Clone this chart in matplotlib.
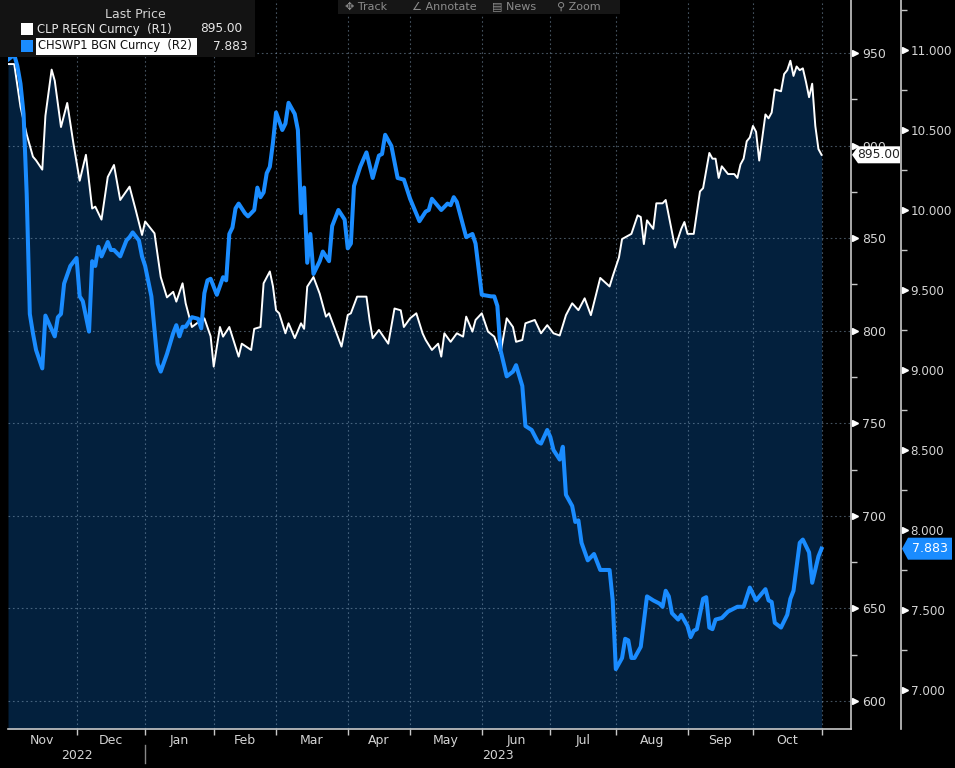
import numpy as np
import pandas as pd
import matplotlib
matplotlib.use("Agg")
import matplotlib.pyplot as plt
from matplotlib.patches import Rectangle, Polygon
from matplotlib.transforms import IdentityTransform

# business days counted from 2022-11-01
clp_bd = [0, 2, 4, 6, 8, 9, 11, 12, 14, 15, 17, 19, 21, 23, 25, 27, 28, 30, 32, 34,
          36, 39, 41, 43, 44, 47, 49, 51, 53, 54, 56, 57, 59, 62, 63, 65, 66, 68, 69, 71,
          74, 75, 78, 79, 81, 82, 84, 85, 86, 87, 89, 90, 92, 94, 95, 96, 98, 100, 102, 103,
          105, 107, 109, 110, 112, 115, 116, 117, 119, 122, 124, 126, 127, 129, 131, 133, 134, 136, 138, 139,
          140, 142, 144, 146, 147, 149, 150, 152, 154, 156, 158, 160, 162, 163, 165, 166, 169, 171, 173, 175,
          177, 179, 181, 183, 185, 187, 190, 193, 194, 196, 197, 200, 202, 203, 204, 205, 207, 208, 210, 211,
          214, 216, 217, 218, 220, 222, 223, 225, 226, 227, 228, 229, 231, 233, 234, 235, 236, 237, 238, 239,
          240, 241, 242, 243, 244, 245, 246, 248, 249, 250, 251, 252, 253, 254, 255, 256, 257, 258, 259, 260,
          261]
clp = [944, 944, 921, 906, 894, 892, 887, 916, 941, 935, 910, 923, 901, 881, 895, 866, 867, 860, 883, 889.5,
       870.6, 877.8, 865, 851.7, 859, 852.6, 829, 818, 821, 815.7, 825.6, 814.8, 802, 805.8, 806.7, 797, 780.6, 802, 796.8, 802,
       786, 793, 789.6, 801, 802, 825.6, 832, 824, 811, 809.4, 798.6, 804, 796, 804, 801, 823.8, 829, 820, 807.6, 809.4,
       800.4, 791.4, 808.5, 809.4, 818.4, 818.4, 805.8, 796, 800.4, 793, 812, 811, 802, 806.7, 809.4, 798.6, 795, 789.6, 793, 786,
       798.6, 794, 798.6, 796.8, 807.6, 799.5, 805.8, 809.4, 799.5, 796.8, 787.8, 806.7, 802, 794, 795, 804, 805.8, 798.6, 803, 798.6,
       797.4, 808.4, 814.8, 811.1, 817.5, 808.4, 828.5, 823.9, 829.4, 839.5, 849.5, 852.3, 862.3, 861.4, 846.8, 859.6, 855, 868.8, 868.8, 870.6,
       844.9, 855, 858.7, 852.3, 852.3, 875.2, 877, 896, 892.9, 892.9, 882.5, 888.8, 884.6, 884.6, 882.5, 889.8, 892.9, 902.3, 904.4, 910.6,
       907.4, 891.9, 904.4, 916.8, 914.7, 917.8, 930.3, 929.3, 938.6, 940.7, 945.8, 937.6, 942.7, 940.7, 941.7, 934.4, 926.1, 933.4, 910.6, 898.1,
       895]

chswp_bd = [0, 2, 3, 4, 5, 6, 7, 8, 9, 11, 12, 15, 16, 17, 18, 20, 22, 23, 24, 26,
            27, 28, 29, 30, 32, 33, 34, 36, 38, 39, 40, 42, 43, 44, 46, 48, 49, 51, 53, 54,
            55, 56, 57, 59, 61, 62, 63, 64, 65, 67, 69, 70, 71, 72, 73, 74, 76, 77, 79, 80,
            81, 82, 83, 84, 85, 86, 88, 89, 90, 92, 93, 94, 95, 96, 97, 98, 100, 101, 103, 104,
            106, 108, 109, 110, 111, 113, 115, 117, 119, 120, 121, 123, 125, 127, 129, 132, 134, 135, 136, 139,
            141, 142, 143, 144, 147, 149, 150, 152, 155, 156, 157, 158, 160, 162, 163, 165, 166, 168, 170, 171,
            173, 174, 175, 177, 178, 179, 181, 182, 183, 184, 186, 188, 190, 193, 194, 195, 197, 198, 199, 200,
            201, 203, 205, 207, 209, 210, 211, 212, 213, 215, 216, 218, 219, 220, 221, 223, 224, 225, 226, 227,
            229, 231, 233, 234, 236, 238, 240, 243, 244, 245, 246, 248, 250, 251, 252, 254, 255, 257, 258, 260,
            261]
chswp = [10.94, 10.97, 10.90, 10.79, 10.6, 10.1, 9.35, 9.23, 9.125, 9.01, 9.34, 9.21, 9.33, 9.35, 9.54, 9.65, 9.70, 9.46, 9.43, 9.24,
         9.68, 9.65, 9.77, 9.71, 9.80, 9.75, 9.75, 9.71, 9.81, 9.83, 9.86, 9.81, 9.71, 9.65, 9.46, 9.04, 8.99, 9.10, 9.23, 9.28,
         9.21, 9.27, 9.27, 9.33, 9.32, 9.26, 9.48, 9.56, 9.57, 9.47, 9.58, 9.56, 9.85, 9.89, 10.01, 10.04, 9.98, 9.96, 10.0, 10.14,
         10.08, 10.11, 10.23, 10.27, 10.42, 10.61, 10.50, 10.54, 10.67, 10.60, 10.50, 9.98, 10.14, 9.67, 9.85, 9.60, 9.68, 9.74, 9.68, 9.90,
         10.0, 9.94, 9.76, 9.79, 10.15, 10.27, 10.36, 10.20, 10.34, 10.35, 10.47, 10.40, 10.20, 10.19, 10.07, 9.93, 9.99, 10.0, 10.07, 10.0,
         10.04, 10.03, 10.08, 10.05, 9.83, 9.85, 9.79, 9.47, 9.46, 9.46, 9.40, 9.125, 8.96, 8.99, 9.03, 8.90, 8.65, 8.625, 8.55, 8.54,
         8.625, 8.58, 8.50, 8.44, 8.52, 8.22, 8.15, 8.05, 8.06, 7.92, 7.81, 7.85, 7.75, 7.75, 7.56, 7.13, 7.20, 7.32, 7.31, 7.20,
         7.20, 7.27, 7.585, 7.56, 7.54, 7.52, 7.62, 7.585, 7.48, 7.44, 7.47, 7.40, 7.33, 7.37, 7.38, 7.57, 7.58, 7.39, 7.38, 7.44,
         7.45, 7.49, 7.51, 7.52, 7.52, 7.64, 7.56, 7.63, 7.56, 7.55, 7.42, 7.39, 7.47, 7.57, 7.62, 7.92, 7.94, 7.86, 7.67, 7.835,
         7.883]

r1_ticks = [600, 650, 700, 750, 800, 850, 900, 950]
r2_ticks = [7.0, 7.5, 8.0, 8.5, 9.0, 9.5, 10.0, 10.5, 11.0]
clp_name = "CLP REGN Curncy  (R1)"
chswp_name = "CHSWP1 BGN Curncy  (R2)"

assert len(clp_bd) == len(clp) and len(chswp_bd) == len(chswp)

W, H = 955, 768
BLUE = "#1a8cff"
NAVY = "#03203d"
TXT = "#d4d4d4"
GRID = "#8aa6bf"
R1_LIM = (584.9, 978.6)
R2_LIM = (6.756, 11.3125)

bdays = pd.bdate_range("2022-11-01", "2023-11-01")
month_ticks = [i for i in range(1, len(bdays)) if bdays[i].month != bdays[i - 1].month]

def fig_xy(x, y):
    # pixel position (top-left origin) -> figure fraction
    return x / W, 1 - y / H

fig = plt.figure(figsize=(W / 100, H / 100), dpi=100, facecolor="black")
plt.rcParams["font.family"] = ["DejaVu Sans"]
ax = fig.add_axes([8 / W, 39 / H, 843 / W, 729 / H])
ax.set_facecolor("black")
ax.set_xlim(0, 270.45)

ax.fill_between(clp_bd, clp, R1_LIM[0], color=NAVY, lw=0, zorder=1)
ax.plot(clp_bd, clp, color="white", lw=1.4, zorder=3)

for t in r1_ticks:
    ax.axhline(t, color=GRID, lw=0.8, ls=(0, (1.5, 2.5)), alpha=0.5, zorder=2)
for t in month_ticks:
    ax.axvline(t, color=GRID, lw=0.8, ls=(0, (1.5, 2.5)), alpha=0.5, zorder=2)

for s in ["top", "left"]:
    ax.spines[s].set_visible(False)
for s in ["right", "bottom"]:
    ax.spines[s].set_color("#c8c8c8")
    ax.spines[s].set_linewidth(1.2)

ax2 = ax.twinx()
ax2.plot(chswp_bd, chswp, color=BLUE, lw=2.9, zorder=4, solid_joinstyle="round")

# R1 axis (twinx moves the host ticks to the left, so set them afterwards)
ax.yaxis.tick_right()
ax.set_yticks(r1_ticks)
ax.set_yticklabels([str(t) for t in r1_ticks])
ax.set_yticks([t + 25 for t in r1_ticks[:-1]], minor=True)
ax.tick_params(axis="y", which="major", length=0, pad=8, labelcolor=TXT, labelsize=9,
               left=False, labelleft=False, right=True, labelright=True)
ax.tick_params(axis="y", which="minor", length=4, color="#c8c8c8", width=1, left=False, right=True)
ax.set_ylim(*R1_LIM)
ax.set_xticks(month_ticks)
ax.set_xticklabels([])
ax.tick_params(axis="x", which="major", length=4, color="#c8c8c8", width=1, direction="out")
ax.plot([1.0045] * len(r1_ticks), r1_ticks, ls="none", marker=">", ms=4.5, color="white",
        transform=ax.get_yaxis_transform(), clip_on=False)

# R2 axis, offset to the right
for s in ["top", "left", "bottom"]:
    ax2.spines[s].set_visible(False)
ax2.spines["right"].set_position(("axes", 893 / 843))
ax2.spines["right"].set_color("#c8c8c8")
ax2.spines["right"].set_linewidth(1.2)
ax2.set_yticks(r2_ticks)
ax2.set_yticklabels([f"{t:.3f}" for t in r2_ticks])
ax2.set_yticks([t + 0.25 for t in r2_ticks], minor=True)
ax2.tick_params(axis="y", which="major", length=0, pad=7, labelcolor=TXT, labelsize=8.6)
ax2.tick_params(axis="y", which="minor", length=4, color="#c8c8c8", width=1)
ax2.set_ylim(*R2_LIM)
ax2.plot([893 / 843 + 0.0045] * len(r2_ticks), r2_ticks, ls="none", marker=">", ms=4.5,
         color="white", transform=ax2.get_yaxis_transform(), clip_on=False)

# month and year labels under the axis
bounds = [0] + month_ticks
for a, b in zip(bounds[:-1], bounds[1:]):
    ax.text((a + b) / 2, -0.0155, bdays[a].strftime("%b"), transform=ax.get_xaxis_transform(),
            ha="center", va="center", color=TXT, fontsize=9)
jan = month_ticks[1]
ax.text(jan / 2, -0.036, "2022", transform=ax.get_xaxis_transform(), ha="center", va="center",
        color=TXT, fontsize=9)
ax.text((jan + ax.get_xlim()[1]) / 2, -0.036, "2023", transform=ax.get_xaxis_transform(),
        ha="center", va="center", color=TXT, fontsize=9)
ax.plot([jan, jan], [-0.022, -0.047], color="#888888", lw=1, transform=ax.get_xaxis_transform(),
        clip_on=False)

# last value tags on the axes
def value_tag(axis, value, text, x0, x1, h, face, fg, size):
    _, yd = axis.transData.transform((0, value))
    tip = 6
    pts = [(x0, yd), (x0 + tip, yd + h / 2), (x1, yd + h / 2), (x1, yd - h / 2), (x0 + tip, yd - h / 2)]
    fig.add_artist(Polygon(pts, closed=True, transform=IdentityTransform(), facecolor=face,
                           edgecolor="none", zorder=5))
    fig.text((x0 + tip + x1) / 2 / W, yd / H, text, ha="center", va="center", color=fg,
             fontsize=size, zorder=6)

value_tag(ax, clp[-1], f"{clp[-1]:.2f}", 852, 900, 17, "white", "#222222", 8.8)
value_tag(ax2, chswp[-1], f"{chswp[-1]:.3f}", 902, 952, 22, BLUE, "white", 9)

# legend box
fig.add_artist(Rectangle(fig_xy(0, 57), 255 / W, 57 / H, transform=fig.transFigure,
                         facecolor="#131313", edgecolor="none"))
fig.text(*fig_xy(135, 14), "Last Price", ha="center", va="center", color=TXT, fontsize=9)
fig.add_artist(Rectangle(fig_xy(21, 35), 12 / W, 12 / H, transform=fig.transFigure,
                         facecolor="white", edgecolor="none"))
fig.text(*fig_xy(37, 29), clp_name, ha="left", va="center", color="#e6e6e6", fontsize=8.4)
fig.text(*fig_xy(242, 29), f"{clp[-1]:.2f}", ha="right", va="center", color="#e6e6e6", fontsize=8.7)
fig.add_artist(Rectangle(fig_xy(21, 52), 12 / W, 12 / H, transform=fig.transFigure,
                         facecolor=BLUE, edgecolor="none"))
fig.add_artist(Rectangle(fig_xy(36, 55), 161 / W, 17 / H, transform=fig.transFigure,
                         facecolor="white", edgecolor="none"))
fig.text(*fig_xy(37.5, 46), chswp_name, ha="left", va="center", color="#111111", fontsize=8.3)
fig.text(*fig_xy(248, 46), f"{chswp[-1]:.3f}", ha="right", va="center", color="#e6e6e6", fontsize=8.7)

# toolbar strip at the top
fig.add_artist(Rectangle(fig_xy(338, 14), 282 / W, 14 / H, transform=fig.transFigure,
                         facecolor="#161616", edgecolor="none"))
for x, label in [(345, "✥ Track"), (412, "∠ Annotate"), (492, "▤ News"), (557, "⚲ Zoom")]:
    fig.text(*fig_xy(x, 6.5), label, ha="left", va="center", color="#8c8c8c", fontsize=8)

fig.savefig("out.png", dpi=100, facecolor="black")
